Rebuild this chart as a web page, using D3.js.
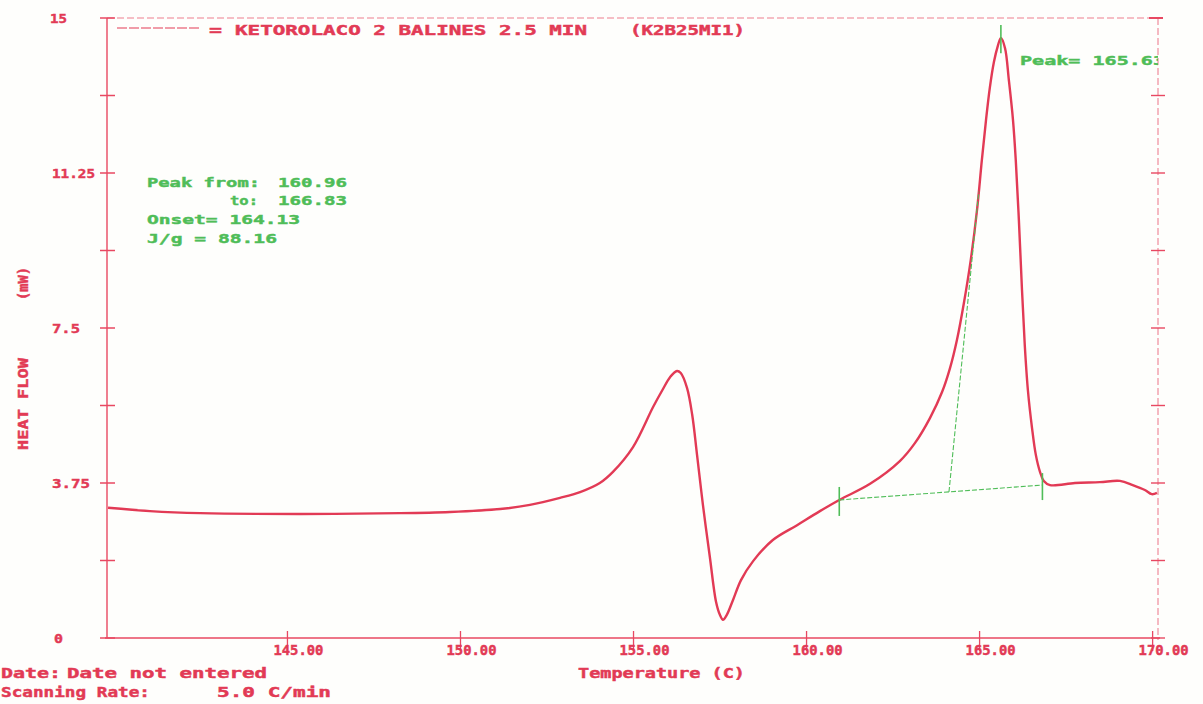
<!DOCTYPE html>
<html>
<head>
<meta charset="utf-8">
<script src="https://cdn.jsdelivr.net/npm/d3@7"></script>
<style>
  html, body { margin: 0; padding: 0; background: #fefefc; }
  svg { display: block; }
</style>
</head>
<body>
<svg id="chart" width="1203" height="704"></svg>
<script>
// DSC scan: heat flow (mW) against temperature (C)
const temperature = [
  139.83, 141.04, 142.49, 145.38, 148.27, 149.71, 151.16, 152.02, 152.89, 153.47,
  154.04, 154.42, 155.00, 155.58, 155.85, 156.07, 156.27, 156.38, 156.56, 156.71,
  156.85, 157.02, 157.22, 157.40, 157.51, 157.60, 157.71, 157.89, 158.12, 158.47,
  159.04, 159.74, 160.40, 160.96, 161.85, 162.71, 163.15, 163.58, 163.93, 164.16,
  164.36, 164.56, 164.76, 164.94, 165.08, 165.20, 165.31, 165.43, 165.54, 165.63,
  165.75, 165.86, 165.98, 166.06, 166.15, 166.24, 166.32, 166.41, 166.53, 166.64,
  166.76, 166.87, 167.05, 167.77, 168.49, 169.07, 169.44, 169.79, 169.99, 170.14
];
const heatFlow = [
  3.15, 3.07, 3.02, 3.00, 3.02, 3.05, 3.12, 3.22, 3.39, 3.53,
  3.75, 4.02, 4.62, 5.59, 6.00, 6.31, 6.46, 6.41, 6.05, 5.40,
  4.43, 3.22, 1.96, 0.87, 0.56, 0.44, 0.56, 0.92, 1.40, 1.86,
  2.37, 2.73, 3.07, 3.34, 3.73, 4.28, 4.72, 5.32, 5.95, 6.53,
  7.21, 8.10, 9.15, 10.35, 11.56, 12.53, 13.31, 13.94, 14.32, 14.52,
  14.27, 13.50, 12.53, 11.56, 10.11, 8.42, 7.09, 6.00, 5.08, 4.43,
  4.02, 3.80, 3.70, 3.75, 3.77, 3.80, 3.70, 3.58, 3.48, 3.51
];

const xTickValues = [145, 150, 155, 160, 165, 170];
const yTickValues = [0, 1.875, 3.75, 5.625, 7.5, 9.375, 11.25, 13.125, 15];
const yTickLabels = ["0", "", "3.75", "", "7.5", "", "11.25", "", "15"];

// Peak analysis results
const peakFrom = 160.96;
const peakTo = 166.83;
const onsetTemp = 164.13;
const peakTemp = 165.63;
const enthalpy = 88.16;
const baselineFlow = [3.34, 3.70];      // heat flow at the two integration limits
const tangentEnd = [164.99, 10.8];      // upper point of the onset tangent

const sampleTitle = "KETOROLACO 2 BALINES 2.5 MIN";
const sampleCode = "(K2B25MI1)";

const RED = "#e23a55";
const AXIS = "#e84862";
const GREEN = "#4fbd58";
const FONT = "'DejaVu Sans Mono', 'Liberation Mono', monospace";

const svg = d3.select("#chart");
const x = d3.scaleLinear().domain([139.8, 170.17]).range([107, 1158]);
const y = d3.scaleLinear().domain([0, 15]).range([638, 18]);

// stretched plotter-style text
function label(parent, str, px, py, size, width, color, extra) {
  const t = parent.append("text")
    .attr("x", px).attr("y", py)
    .attr("font-family", FONT)
    .attr("font-weight", "bold")
    .attr("font-size", size)
    .attr("fill", color)
    .attr("stroke", color)
    .attr("stroke-width", 0.45)
    .style("white-space", "pre")
    .text(str);
  if (width) t.attr("textLength", width).attr("lengthAdjust", "spacingAndGlyphs");
  if (extra) extra(t);
  return t;
}

// frame: dashed top and right borders
svg.append("line")
  .attr("x1", x.range()[0]).attr("x2", 1160)
  .attr("y1", y(15)).attr("y2", y(15))
  .attr("stroke", AXIS).attr("stroke-width", 1).attr("stroke-dasharray", "7,3").attr("opacity", 0.7);
svg.append("line")
  .attr("x1", 1158).attr("x2", 1158)
  .attr("y1", y(15)).attr("y2", y(0) + 2)
  .attr("stroke", AXIS).attr("stroke-width", 1).attr("stroke-dasharray", "7,3").attr("opacity", 0.75);
svg.append("line")
  .attr("x1", 1149).attr("x2", 1163).attr("y1", y(15)).attr("y2", y(15))
  .attr("stroke", AXIS).attr("stroke-width", 2);

// left axis with cross ticks
svg.append("line")
  .attr("x1", 107).attr("x2", 107).attr("y1", y(15)).attr("y2", y(0))
  .attr("stroke", AXIS).attr("stroke-width", 1.4);
svg.append("g").selectAll("line").data(yTickValues).join("line")
  .attr("x1", 100).attr("x2", 115)
  .attr("y1", d => y(d)).attr("y2", d => y(d))
  .attr("stroke", AXIS).attr("stroke-width", 1.5);
// right axis cross ticks
svg.append("g").selectAll("line").data(yTickValues.slice(0, -1)).join("line")
  .attr("x1", 1151).attr("x2", 1165)
  .attr("y1", d => y(d)).attr("y2", d => y(d))
  .attr("stroke", AXIS).attr("stroke-width", 1.4);

// y tick labels
const yLabelWidths = { "0": 9, "3.75": 38, "7.5": 28, "11.25": 43, "15": 17 };
yTickValues.forEach((v, i) => {
  const s = yTickLabels[i];
  if (!s) return;
  label(svg, s, s === "0" ? 54 : (s === "15" ? 50 : 52), y(v) + 5, 13, yLabelWidths[s], RED);
});

// bottom axis
const xAxis = d3.axisBottom(x)
  .tickValues(xTickValues)
  .tickFormat(d3.format(".2f"))
  .tickSize(14)
  .tickPadding(3);
const gx = svg.append("g").attr("transform", `translate(0,${y(0)})`).call(xAxis);
gx.select(".domain").remove();
gx.selectAll(".tick line")
  .attr("y1", -7).attr("y2", 13)
  .attr("stroke", AXIS).attr("stroke-width", 1.3);
gx.selectAll(".tick text")
  .attr("text-anchor", "start")
  .attr("x", -14).attr("y", 17)
  .attr("dy", 0)
  .attr("font-family", FONT).attr("font-weight", "bold").attr("font-size", 14)
  .attr("fill", RED).attr("stroke", RED).attr("stroke-width", 0.45)
  .attr("textLength", 50).attr("lengthAdjust", "spacingAndGlyphs");
svg.append("line")
  .attr("x1", 105).attr("x2", 1160).attr("y1", y(0)).attr("y2", y(0))
  .attr("stroke", AXIS).attr("stroke-width", 1.6);

// axis titles
label(svg, "Temperature (C)", 578, 678, 14, 167, RED);
label(svg, "HEAT FLOW", 0, 0, 14, 92, RED, t => t.attr("transform", "translate(28,450) rotate(-90)"));
label(svg, "(mW)", 0, 0, 14, 33, RED, t => t.attr("transform", "translate(28,300) rotate(-90)"));

// run information
label(svg, "Date:", 1, 678, 14, 60, RED);
label(svg, "Date not entered", 67, 678, 14, 200, RED);
label(svg, "Scanning Rate:", 1, 697, 14, 149, RED);
label(svg, "5.0 C/min", 217, 697, 14, 114, RED);

// legend
svg.append("line")
  .attr("x1", 117).attr("x2", 200).attr("y1", 28).attr("y2", 28)
  .attr("stroke", RED).attr("stroke-width", 1.2).attr("stroke-dasharray", "10,2");
label(svg, "=", 209, 35, 14, 13, RED);
label(svg, sampleTitle, 235, 35, 14, 352, RED);
label(svg, sampleCode, 630, 35, 14, 115, RED);

// heat-flow curve
const pts = temperature.map((t, i) => [t, heatFlow[i]]);
const line = d3.line().x(d => x(d[0])).y(d => y(d[1])).curve(d3.curveCatmullRom.alpha(0.5));
svg.append("path")
  .datum(pts)
  .attr("d", line)
  .attr("fill", "none")
  .attr("stroke", RED)
  .attr("stroke-width", 2.4)
  .attr("stroke-linejoin", "round");

// integration baseline, onset tangent and markers
const ann = svg.append("g").attr("stroke", GREEN).attr("fill", "none");
ann.append("line")
  .attr("x1", x(peakFrom)).attr("y1", y(baselineFlow[0]))
  .attr("x2", x(peakTo)).attr("y2", y(baselineFlow[1]))
  .attr("stroke-width", 1.1).attr("stroke-dasharray", "5,2");
const onsetBase = baselineFlow[0] + (onsetTemp - peakFrom) / (peakTo - peakFrom) * (baselineFlow[1] - baselineFlow[0]);
ann.append("line")
  .attr("x1", x(onsetTemp)).attr("y1", y(onsetBase))
  .attr("x2", x(tangentEnd[0])).attr("y2", y(tangentEnd[1]))
  .attr("stroke-width", 1.1).attr("stroke-dasharray", "5,2");
ann.append("line")
  .attr("x1", x(peakFrom)).attr("x2", x(peakFrom))
  .attr("y1", y(baselineFlow[0]) - 13).attr("y2", y(baselineFlow[0]) + 16)
  .attr("stroke-width", 1.6);
ann.append("line")
  .attr("x1", x(peakTo)).attr("x2", x(peakTo))
  .attr("y1", y(baselineFlow[1]) - 12).attr("y2", y(baselineFlow[1]) + 15)
  .attr("stroke-width", 1.6);
ann.append("line")
  .attr("x1", x(peakTemp)).attr("x2", x(peakTemp))
  .attr("y1", y(14.83)).attr("y2", y(14.15))
  .attr("stroke-width", 1.6);

// peak report
label(svg, "Peak from:", 147, 187, 13, 113, GREEN);
label(svg, d3.format(".2f")(peakFrom), 278, 187, 13, 69, GREEN);
label(svg, "to:", 230, 205, 13, 28, GREEN);
label(svg, d3.format(".2f")(peakTo), 278, 205, 13, 69, GREEN);
label(svg, "Onset= " + d3.format(".2f")(onsetTemp), 147, 224, 13, 153, GREEN);
label(svg, "J/g = " + d3.format(".2f")(enthalpy), 147, 243, 13, 130, GREEN);

svg.append("clipPath").attr("id", "plotClip")
  .append("rect").attr("x", 0).attr("y", 0).attr("width", 1158).attr("height", 704);
label(svg, "Peak= " + d3.format(".2f")(peakTemp), 1020, 65, 13, 145, GREEN,
  t => t.attr("clip-path", "url(#plotClip)"));
</script>
</body>
</html>
